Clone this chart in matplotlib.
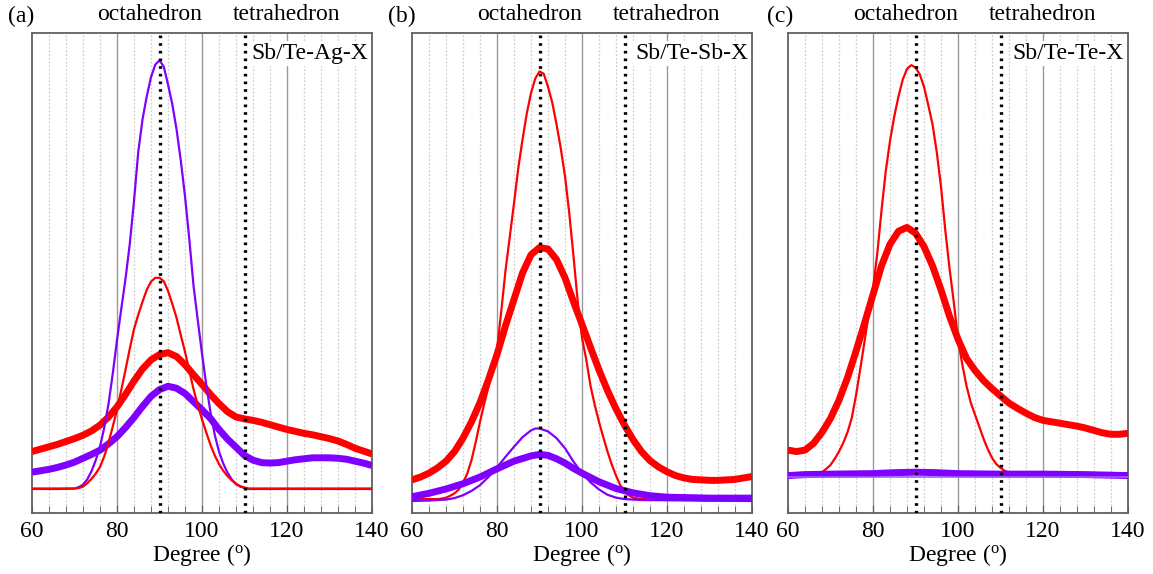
import matplotlib
matplotlib.use("Agg")
import matplotlib.pyplot as plt
from matplotlib.ticker import MultipleLocator

plt.rcParams['font.family'] = ['Liberation Serif', 'DejaVu Serif']
plt.rcParams['mathtext.fontset'] = 'custom'
plt.rcParams['mathtext.rm'] = 'Liberation Serif'
plt.rcParams['mathtext.it'] = 'Liberation Serif:italic'

# ---------------- data ----------------
panel_letters = ['(a)', '(b)', '(c)']
panel_names = ['Sb/Te-Ag-X', 'Sb/Te-Sb-X', 'Sb/Te-Te-X']
x_ticks = [60, 80, 100, 120, 140]
octa_angle = 90
tetra_angle = 110

# Panel (a)
a_thin_purple_x = [60, 66, 70, 71, 72, 73, 74, 75, 76, 77, 78, 79, 80, 81, 82, 83, 84, 85, 86, 87, 88, 89,
                   90, 91, 92, 93, 94, 95, 96, 97, 98, 99, 100, 101, 102, 103, 104, 105, 106, 107, 108, 109,
                   110, 111, 140]
a_thin_purple_y = [0.050, 0.050, 0.051, 0.054, 0.059, 0.07, 0.087, 0.11, 0.138, 0.178, 0.227, 0.29, 0.36,
                   0.425, 0.488, 0.56, 0.65, 0.752, 0.82, 0.868, 0.908, 0.934, 0.943, 0.93, 0.893, 0.852,
                   0.8, 0.735, 0.66, 0.572, 0.474, 0.402, 0.332, 0.267, 0.21, 0.163, 0.128, 0.103, 0.084,
                   0.07, 0.06, 0.055, 0.052, 0.050, 0.050]
a_thin_red_x = [60, 70, 71, 72, 73, 74, 75, 76, 77, 78, 79, 80, 81, 82, 83, 84, 85, 86, 87, 88, 89, 90,
                91, 92, 93, 94, 95, 96, 97, 98, 99, 100, 101, 102, 103, 104, 105, 106, 107, 108, 109, 110,
                111, 140]
a_thin_red_y = [0.051, 0.051, 0.052, 0.055, 0.062, 0.071, 0.082, 0.096, 0.118, 0.146, 0.18, 0.215, 0.256,
                0.298, 0.342, 0.383, 0.413, 0.44, 0.465, 0.482, 0.49, 0.49, 0.483, 0.463, 0.436, 0.407,
                0.371, 0.336, 0.297, 0.258, 0.225, 0.195, 0.168, 0.142, 0.12, 0.102, 0.088, 0.077, 0.068,
                0.061, 0.056, 0.053, 0.051, 0.051]
a_thick_red_x = [60, 62, 64, 66, 68, 70, 72, 74, 76, 78, 80, 82, 84, 86, 88, 90, 92, 94, 96, 98, 100,
                 102, 104, 106, 108, 110, 112, 114, 116, 118, 120, 122, 124, 126, 128, 130, 132, 134,
                 136, 138, 140]
a_thick_red_y = [0.128, 0.133, 0.138, 0.143, 0.149, 0.155, 0.162, 0.171, 0.183, 0.2, 0.221, 0.247,
                 0.275, 0.3, 0.319, 0.33, 0.334, 0.326, 0.309, 0.288, 0.268, 0.247, 0.228, 0.211, 0.2,
                 0.196, 0.193, 0.189, 0.184, 0.179, 0.174, 0.17, 0.166, 0.163, 0.159, 0.155, 0.15,
                 0.143, 0.135, 0.129, 0.123]
a_thick_purple_x = a_thick_red_x
a_thick_purple_y = [0.085, 0.088, 0.091, 0.095, 0.1, 0.106, 0.114, 0.122, 0.131, 0.144, 0.159, 0.178,
                    0.199, 0.222, 0.243, 0.257, 0.264, 0.26, 0.249, 0.232, 0.215, 0.197, 0.174, 0.154,
                    0.137, 0.12, 0.11, 0.105, 0.104, 0.105, 0.108, 0.111, 0.113, 0.115, 0.115, 0.115,
                    0.114, 0.112, 0.108, 0.104, 0.099]

# Panel (b)
b_thin_red_x = [60, 66, 67, 68, 69, 70, 71, 72, 73, 74, 75, 76, 77, 78, 79, 80, 81, 82, 83, 84, 85, 86,
                87, 88, 89, 90, 91, 92, 93, 94, 95, 96, 97, 98, 99, 100, 101, 102, 103, 104, 105, 106,
                107, 108, 109, 110, 111, 112, 114, 140]
b_thin_red_y = [0.029, 0.029, 0.030, 0.032, 0.036, 0.041, 0.049, 0.063, 0.082, 0.11, 0.148, 0.19,
                0.228, 0.263, 0.3, 0.34, 0.42, 0.505, 0.575, 0.645, 0.718, 0.778, 0.832, 0.875, 0.905,
                0.92, 0.915, 0.888, 0.855, 0.81, 0.76, 0.702, 0.625, 0.535, 0.44, 0.365, 0.32, 0.265,
                0.225, 0.19, 0.158, 0.128, 0.101, 0.078, 0.058, 0.046, 0.037, 0.032, 0.029, 0.028]
b_thick_red_x = [60, 62, 64, 66, 68, 70, 72, 74, 76, 78, 80, 82, 84, 86, 88, 90, 92, 94, 96, 98, 100,
                 102, 104, 106, 108, 110, 112, 114, 116, 118, 120, 122, 124, 126, 128, 130, 132, 134,
                 136, 138, 140]
b_thick_red_y = [0.069, 0.075, 0.083, 0.094, 0.108, 0.128, 0.156, 0.19, 0.23, 0.278, 0.33, 0.39, 0.445,
                 0.5, 0.538, 0.553, 0.55, 0.528, 0.49, 0.44, 0.393, 0.345, 0.298, 0.255, 0.217, 0.183,
                 0.153, 0.128, 0.109, 0.096, 0.086, 0.078, 0.073, 0.07, 0.069, 0.068, 0.068, 0.069,
                 0.07, 0.073, 0.076]
b_thin_purple_x = [60, 64, 68, 70, 72, 74, 76, 78, 80, 82, 84, 86, 88, 89, 90, 92, 94, 96, 98, 100, 102,
                   104, 106, 108, 110, 114, 140]
b_thin_purple_y = [0.025, 0.026, 0.028, 0.031, 0.037, 0.046, 0.058, 0.075, 0.095, 0.117, 0.138, 0.158,
                   0.172, 0.176, 0.176, 0.17, 0.156, 0.135, 0.107, 0.083, 0.064, 0.049, 0.038, 0.032,
                   0.029, 0.027, 0.025]
b_thick_purple_x = [60, 64, 68, 72, 76, 80, 84, 88, 90, 92, 94, 96, 98, 100, 104, 108, 112, 116, 120,
                    130, 140]
b_thick_purple_y = [0.034, 0.041, 0.05, 0.061, 0.075, 0.092, 0.108, 0.119, 0.122, 0.12, 0.113, 0.104,
                    0.093, 0.083, 0.065, 0.051, 0.042, 0.036, 0.033, 0.031, 0.031]

# Panel (c)
c_thin_red_x = [60, 64, 66, 67, 68, 69, 70, 71, 72, 73, 74, 75, 76, 77, 78, 79, 80, 81, 82, 83, 84, 85,
                86, 87, 88, 89, 90, 91, 92, 93, 94, 95, 96, 97, 98, 99, 100, 101, 102, 103, 104, 105,
                106, 107, 108, 109, 110, 111, 112, 114, 116, 120, 140]
c_thin_red_y = [0.076, 0.077, 0.079, 0.081, 0.085, 0.092, 0.1, 0.113, 0.128, 0.146, 0.168, 0.198, 0.245,
                0.3, 0.357, 0.415, 0.468, 0.54, 0.63, 0.712, 0.775, 0.826, 0.868, 0.903, 0.925, 0.933,
                0.928, 0.914, 0.888, 0.85, 0.81, 0.752, 0.68, 0.59, 0.51, 0.44, 0.362, 0.31, 0.265,
                0.23, 0.205, 0.18, 0.155, 0.133, 0.115, 0.102, 0.094, 0.088, 0.084, 0.08, 0.078, 0.077,
                0.077]
c_thick_red_x = [60, 62, 64, 66, 68, 70, 72, 74, 76, 78, 80, 82, 84, 86, 88, 90, 92, 94, 96, 98, 100,
                 102, 104, 106, 108, 110, 112, 114, 116, 118, 120, 122, 124, 126, 128, 130, 132, 134,
                 136, 138, 140]
c_thick_red_y = [0.131, 0.128, 0.131, 0.145, 0.168, 0.197, 0.235, 0.282, 0.337, 0.395, 0.455, 0.515,
                 0.56, 0.587, 0.595, 0.583, 0.555, 0.515, 0.465, 0.41, 0.362, 0.322, 0.297, 0.276,
                 0.259, 0.244, 0.229, 0.218, 0.208, 0.199, 0.193, 0.19, 0.187, 0.184, 0.181, 0.177,
                 0.172, 0.167, 0.164, 0.164, 0.166]
c_thick_purple_x = [60, 64, 70, 80, 85, 90, 95, 100, 110, 120, 130, 140]
c_thick_purple_y = [0.078, 0.080, 0.081, 0.082, 0.084, 0.085, 0.084, 0.082, 0.081, 0.081, 0.080, 0.078]
c_thin_purple_x = [60, 80, 100, 120, 140]
c_thin_purple_y = [0.075, 0.075, 0.075, 0.075, 0.075]

RED = '#ff0000'
PURPLE = '#8000ff'

panels = [
    [(a_thick_red_x, a_thick_red_y, RED, 5.0), (a_thick_purple_x, a_thick_purple_y, PURPLE, 5.0),
     (a_thin_purple_x, a_thin_purple_y, PURPLE, 1.6), (a_thin_red_x, a_thin_red_y, RED, 1.6)],
    [(b_thick_red_x, b_thick_red_y, RED, 5.0), (b_thin_red_x, b_thin_red_y, RED, 1.6),
     (b_thin_purple_x, b_thin_purple_y, PURPLE, 1.6), (b_thick_purple_x, b_thick_purple_y, PURPLE, 5.0)],
    [(c_thick_red_x, c_thick_red_y, RED, 5.0), (c_thin_red_x, c_thin_red_y, RED, 1.6),
     (c_thick_purple_x, c_thick_purple_y, PURPLE, 5.0), (c_thin_purple_x, c_thin_purple_y, '#a060ff', 1.2)],
]

W, H = 1153, 574
fig = plt.figure(figsize=(W / 100, H / 100), dpi=100)
lefts = [32, 412, 788]
ax_w = 340
bottom_px, top_px = 513, 33

for i, left in enumerate(lefts):
    ax = fig.add_axes([left / W, (H - bottom_px) / H, ax_w / W, (bottom_px - top_px) / H])
    ax.set_xlim(60, 140)
    ax.set_ylim(0, 1)
    # grid lines
    for g in range(64, 140, 4):
        if g % 20 == 0:
            continue
        ax.axvline(g, color='#cfcfcf', lw=0.9, ls=(0, (1.5, 1.5)), zorder=0)
    for g in [80, 100, 120]:
        ax.axvline(g, color='#9a9a9a', lw=1.0, zorder=0)
    # structural reference lines
    for g in [octa_angle, tetra_angle]:
        ax.axvline(g, color='black', lw=2.4, ls=(0, (0.8, 1.5)), zorder=5)
    for xs, ys, col, lw in panels[i]:
        ax.plot(xs, ys, color=col, lw=lw, solid_capstyle='butt', solid_joinstyle='round', zorder=3)
    ax.set_xticks(x_ticks)
    ax.xaxis.set_minor_locator(MultipleLocator(4))
    ax.tick_params(axis='x', which='both', direction='in', labelsize=17, pad=6, top=False)
    ax.tick_params(axis='x', which='major', length=6, color='#555555')
    ax.tick_params(axis='x', which='minor', length=5, color='#555555')
    ax.set_yticks([])
    for s in ax.spines.values():
        s.set_color('#606060')
        s.set_linewidth(1.3)
    ax.set_xlabel('Degree ($^{\\rm o}$)', fontsize=17, labelpad=0)
    ax.text(0.988, 0.958, panel_names[i], transform=ax.transAxes, ha='right', va='center', fontsize=17,
            zorder=6, bbox=dict(facecolor='white', edgecolor='none', pad=1.5))
    ax.text(0.345, 1.0375, 'octahedron', transform=ax.transAxes, ha='center', va='center', fontsize=17)
    ax.text(0.748, 1.0375, 'tetrahedron', transform=ax.transAxes, ha='center', va='center', fontsize=17)

for letter, xpx in zip(panel_letters, [8, 388, 767]):
    fig.text(xpx / W, 1 - 16 / H, letter, ha='left', va='center', fontsize=17)

fig.savefig('out.png', dpi=100, facecolor='white')
